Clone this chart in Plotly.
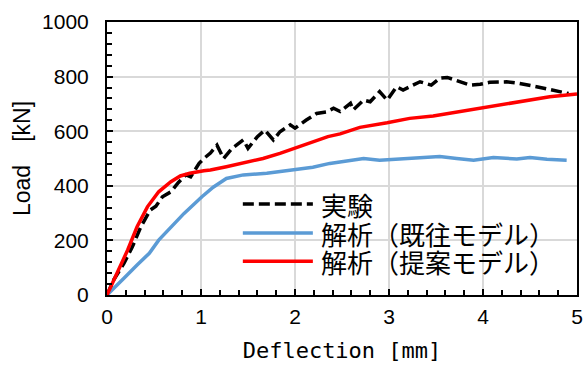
import plotly.graph_objects as go

# Experimental (実験)
exp_x = [0, 0.07, 0.18, 0.27, 0.36, 0.46, 0.52, 0.59, 0.68, 0.76, 0.84, 0.89, 0.98, 1.03,
         1.10, 1.17, 1.24, 1.33, 1.45, 1.50, 1.60, 1.68, 1.77, 1.84, 1.95, 2.00, 2.12, 2.23,
         2.34, 2.41, 2.48, 2.59, 2.62, 2.73, 2.80, 2.90, 2.98, 3.08, 3.15, 3.33, 3.45, 3.54,
         3.62, 3.76, 3.86, 3.97, 4.07, 4.25, 4.39, 4.57, 4.71, 4.85, 4.91]
exp_y = [0, 55, 116, 177, 250, 311, 325, 360, 378, 412, 440, 433, 482, 500,
         520, 549, 500, 537, 568, 537, 580, 604, 568, 598, 623, 611, 641, 665,
         671, 684, 672, 702, 678, 714, 708, 745, 714, 763, 751, 781, 769, 794,
         797, 781, 769, 772, 779, 781, 775, 763, 753, 741, 738]

# Analysis, existing model (解析（既往モデル）)
old_x = [0, 0.074, 0.18, 0.32, 0.45, 0.55, 0.68, 0.82, 1.01, 1.13, 1.27, 1.45, 1.70, 1.98,
         2.19, 2.37, 2.48, 2.73, 2.90, 3.19, 3.54, 3.72, 3.90, 4.11, 4.36, 4.50, 4.68, 4.89]
old_y = [0, 24, 61, 110, 153, 201, 250, 299, 360, 395, 427, 440, 446, 458,
         468, 482, 488, 500, 494, 500, 507, 500, 494, 504, 498, 504, 497, 494]

# Analysis, proposed model (解析（提案モデル）)
new_x = [0, 0.11, 0.22, 0.32, 0.43, 0.55, 0.68, 0.78, 0.88, 1.03, 1.10, 1.27, 1.49, 1.66,
         1.84, 2.02, 2.19, 2.35, 2.48, 2.69, 2.98, 3.22, 3.47, 3.63, 3.76, 4.0, 4.25, 4.46,
         4.71, 5.0]
new_y = [0, 79, 165, 250, 323, 378, 415, 436, 446, 455, 458, 470, 488, 500,
         519, 541, 562, 580, 590, 614, 631, 647, 656, 665, 672, 688, 702, 714,
         726, 736]

names = ["実験", "解析（既往モデル）", "解析（提案モデル）"]
x_ticks = [0, 1, 2, 3, 4, 5]
y_ticks = [0, 200, 400, 600, 800, 1000]

colors = ["black", "#5b9bd5", "#ff0000"]
dashes = ["11px,5px", "solid", "solid"]
series = [(exp_x, exp_y), (old_x, old_y), (new_x, new_y)]

fig = go.Figure()
for (xs, ys), nm, c, d in zip(series, names, colors, dashes):
    fig.add_trace(go.Scatter(x=xs, y=ys, mode="lines", name=nm, showlegend=False,
                             line=dict(color=c, width=3.5, dash=d)))

# Legend drawn as a white box with sample lines and labels (paper coordinates)
shapes = [dict(type="rect", xref="paper", yref="paper", x0=0.270, x1=0.968,
               y0=0.055, y1=0.385, fillcolor="white", line=dict(width=0), layer="below")]
annotations = []
rows = [0.333, 0.227, 0.124]
for nm, c, d, ry in zip(names, colors, dashes, rows):
    shapes.append(dict(type="line", xref="paper", yref="paper", x0=0.289, x1=0.438,
                       y0=ry, y1=ry, line=dict(color=c, width=3.5, dash=d)))
    annotations.append(dict(text=nm, xref="paper", yref="paper", x=0.450, y=ry,
                            xanchor="left", yanchor="middle", showarrow=False,
                            font=dict(family="Noto Sans CJK JP", size=26, color="black")))

tickfont = dict(family="Liberation Sans", size=21, color="black")
fig.update_layout(
    width=587, height=367, autosize=False,
    margin=dict(l=107, r=10, t=22, b=72),
    plot_bgcolor="white", paper_bgcolor="white",
    shapes=shapes, annotations=annotations,
)
fig.update_xaxes(
    range=[0, 5], tickvals=x_ticks, ticktext=[str(v) for v in x_ticks],
    showline=True, linecolor="black", linewidth=2, mirror=True, automargin=False,
    ticks="inside", ticklen=6, tickwidth=2, tickcolor="black",
    showgrid=True, gridcolor="#d9d9d9", gridwidth=2, zeroline=False,
    tickfont=tickfont, ticklabelstandoff=2,
    minor=dict(dtick=0.2, ticks="inside", ticklen=5, tickwidth=2, tickcolor="black", showgrid=False),
    title=dict(text="Deflection [mm]", font=dict(family="DejaVu Sans Mono", size=22, color="black"), standoff=15),
)
fig.update_yaxes(
    range=[0, 1000], tickvals=y_ticks, ticktext=[str(v) for v in y_ticks],
    showline=True, linecolor="black", linewidth=2, mirror=True, automargin=False,
    ticks="inside", ticklen=6, tickwidth=2, tickcolor="black",
    showgrid=True, gridcolor="#d9d9d9", gridwidth=2, zeroline=False,
    tickfont=tickfont, ticklabelstandoff=12,
    minor=dict(dtick=40, ticks="inside", ticklen=5, tickwidth=2, tickcolor="black", showgrid=False),
    title=dict(text="Load\u3000[kN]", font=dict(family="Liberation Sans", size=23, color="black"), standoff=5),
)

fig.write_html("out.html", config={"displayModeBar": False},
               post_script="document.body.style.margin='0';document.body.style.overflow='hidden';")
